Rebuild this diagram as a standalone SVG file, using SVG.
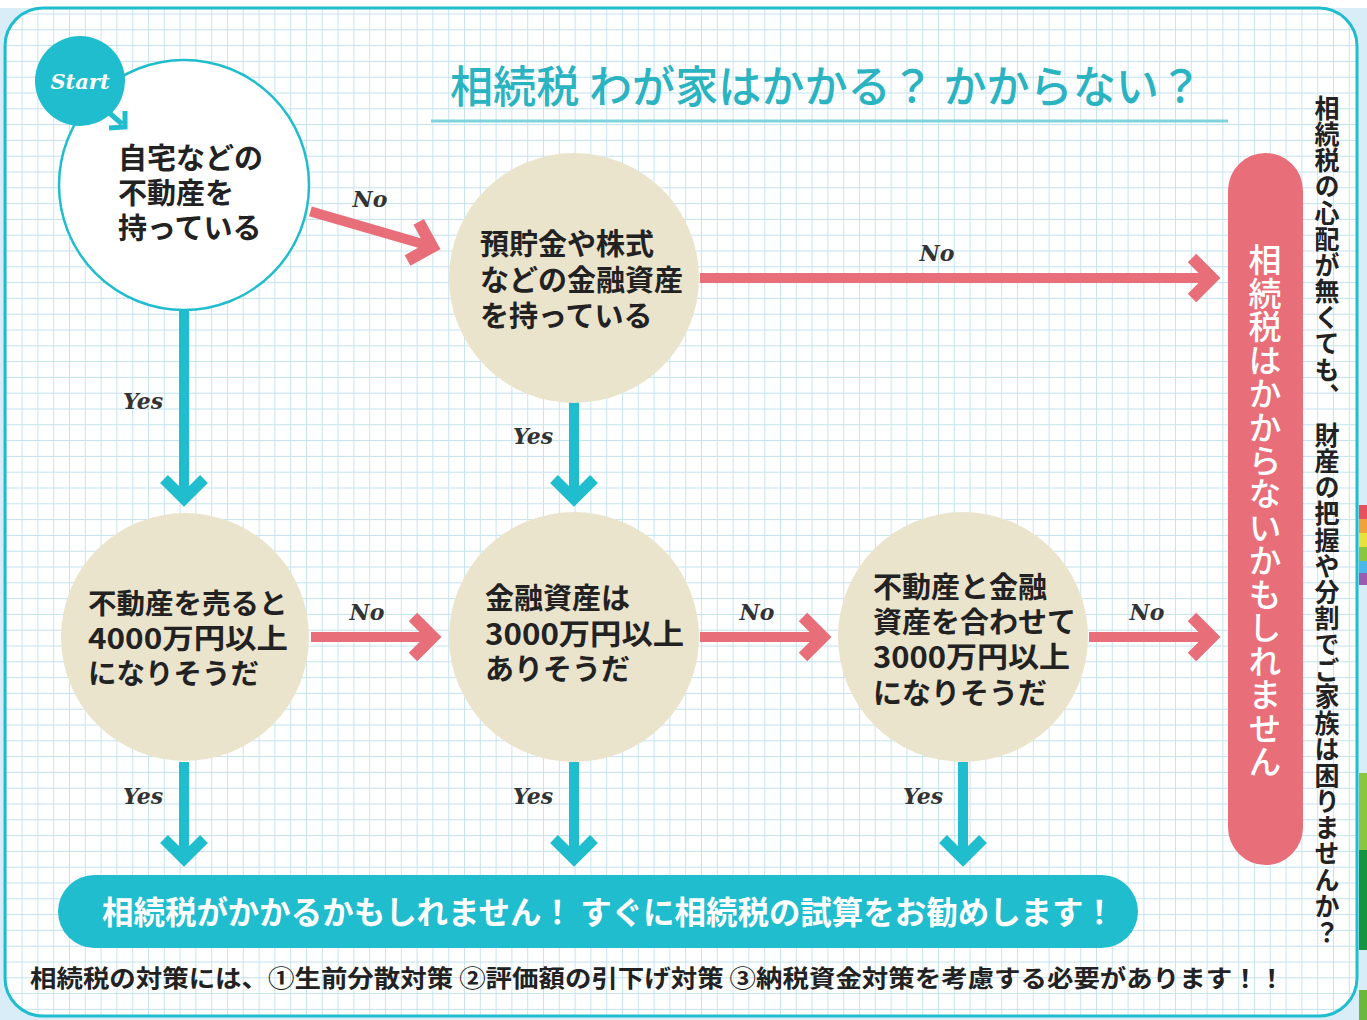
<svg xmlns="http://www.w3.org/2000/svg" width="1367" height="1020" viewBox="0 0 1367 1020">
<style>
.node-text{font-family:"Noto Sans CJK JP","Noto Sans",sans-serif;font-weight:700;fill:#222;}
.lbl{font-family:"DejaVu Serif","Liberation Serif",serif;font-style:italic;font-weight:bold;fill:#333;font-size:22px;text-anchor:middle;stroke:#fff;stroke-width:0.6px;paint-order:stroke;}
.pink{stroke:#e86f7a;stroke-width:10;fill:none;stroke-linejoin:miter;}
.pinkhead{stroke:#e86f7a;stroke-width:12;fill:none;stroke-linejoin:miter;}
.blue{stroke:#1fbdcd;stroke-width:10;fill:none;stroke-linejoin:miter;}
.bluehead{stroke:#1fbdcd;stroke-width:11;fill:none;stroke-linejoin:miter;}
.beige{fill:#ebe4cd;}
</style>
<defs>
<pattern id="grid" patternUnits="userSpaceOnUse" x="5.8" y="13.5" width="15.8" height="15.8">
<rect width="15.8" height="15.8" fill="#ffffff"/>
<path d="M0 0 V15.8 M0 0 H15.8" stroke="#c2e2ee" stroke-width="1.8" fill="none"/>
</pattern>
</defs>
<rect width="1367" height="1020" fill="#d8edf8"/>
<rect x="0" y="0" width="1367" height="8" fill="#ffffff"/>
<g id="edge-stripes">
<rect x="1359" y="505" width="8" height="14" fill="#e8505b"/>
<rect x="1359" y="519" width="8" height="14" fill="#f3a23a"/>
<rect x="1359" y="533" width="8" height="14" fill="#e9e23a"/>
<rect x="1359" y="547" width="8" height="14" fill="#8cc63f"/>
<rect x="1359" y="561" width="8" height="12" fill="#49b8e8"/>
<rect x="1359" y="573" width="8" height="12" fill="#9a5bb0"/>
<rect x="1359" y="773" width="8" height="77" fill="#8cc63f"/>
<rect x="1359" y="850" width="8" height="100" fill="#14953e"/>
<rect x="1359" y="990" width="8" height="30" fill="#6cb83a"/>
</g>
<rect id="panel" x="5" y="8" width="1352" height="1008" rx="38" fill="url(#grid)" stroke="#1fbdcd" stroke-width="3"/>

<g id="title">
<text x="450" y="103" font-family="'Noto Sans CJK JP',sans-serif" font-weight="500" font-size="44" fill="#2ab3c1" textLength="752" lengthAdjust="spacingAndGlyphs">相続税 わが家はかかる？ かからない？</text>
<line x1="431" y1="121" x2="1228" y2="121" stroke="#7fd3dc" stroke-width="3"/>
</g>

<g id="connectors">
<g transform="translate(440,249) rotate(16.2)">
<path class="pink" d="M-135 0 H-8"/>
<path class="pinkhead" d="M-28 -20 L-8 0 L-28 20"/>
</g>
<text class="lbl" x="370" y="207">No</text>
<path class="pink" d="M700 278 H1212"/>
<path class="pinkhead" d="M1192 258 L1212 278 L1192 298"/>
<text class="lbl" x="937" y="261">No</text>
<path class="pink" d="M311 637 H433"/>
<path class="pinkhead" d="M413 617 L433 637 L413 657"/>
<text class="lbl" x="367" y="620">No</text>
<path class="pink" d="M700 637 H823"/>
<path class="pinkhead" d="M803 617 L823 637 L803 657"/>
<text class="lbl" x="757" y="620">No</text>
<path class="pink" d="M1089 637 H1212"/>
<path class="pinkhead" d="M1192 617 L1212 637 L1192 657"/>
<text class="lbl" x="1147" y="620">No</text>
<path class="blue" d="M184 308 V498"/>
<path class="bluehead" d="M164 479 L184 499 L204 479"/>
<text class="lbl" x="143" y="409">Yes</text>
<path class="blue" d="M574 402 V498"/>
<path class="bluehead" d="M554 479 L574 499 L594 479"/>
<text class="lbl" x="533" y="444">Yes</text>
<path class="blue" d="M184 762 V858"/>
<path class="bluehead" d="M164 839 L184 859 L204 839"/>
<text class="lbl" x="143" y="804">Yes</text>
<path class="blue" d="M574 762 V858"/>
<path class="bluehead" d="M554 839 L574 859 L594 839"/>
<text class="lbl" x="533" y="804">Yes</text>
<path class="blue" d="M963 762 V858"/>
<path class="bluehead" d="M943 839 L963 859 L983 839"/>
<text class="lbl" x="923" y="804">Yes</text>
</g>

<g id="node-q1">
<circle cx="184" cy="185" r="125" fill="#ffffff" stroke="#1fbdcd" stroke-width="2.5"/>
<text class="node-text" font-size="29" x="118" y="169">自宅などの</text>
<text class="node-text" font-size="29" x="118" y="204">不動産を</text>
<text class="node-text" font-size="29" x="118" y="239">持っている</text>
</g>
<g id="start">
<circle cx="80" cy="81" r="45" fill="#1fbdcd"/>
<text x="80" y="89" font-family="'DejaVu Serif',serif" font-style="italic" font-weight="bold" font-size="21" fill="#ffffff" text-anchor="middle">Start</text>
<path d="M106 110 L122 124 M109 128 L125 127 L125 111" stroke="#1fbdcd" stroke-width="5" fill="none"/>
</g>
<g id="node-q2">
<circle class="beige" cx="574" cy="278" r="125"/>
<text class="node-text" font-size="29" x="480" y="255">預貯金や株式</text>
<text class="node-text" font-size="29" x="480" y="291">などの金融資産</text>
<text class="node-text" font-size="29" x="480" y="327">を持っている</text>
</g>
<g id="node-q3">
<circle class="beige" cx="185" cy="637" r="124"/>
<text class="node-text" font-size="28.5" x="88" y="614">不動産を売ると</text>
<text class="node-text" font-size="28.5" x="88" y="649" textLength="200" lengthAdjust="spacingAndGlyphs">4000万円以上</text>
<text class="node-text" font-size="28.5" x="88" y="684">になりそうだ</text>
</g>
<g id="node-q4">
<circle class="beige" cx="574" cy="637" r="125"/>
<text class="node-text" font-size="29" x="485" y="609">金融資産は</text>
<text class="node-text" font-size="29" x="485" y="645" textLength="199" lengthAdjust="spacingAndGlyphs">3000万円以上</text>
<text class="node-text" font-size="29" x="485" y="680">ありそうだ</text>
</g>
<g id="node-q5">
<circle class="beige" cx="963" cy="637" r="125"/>
<text class="node-text" font-size="29" x="873" y="598">不動産と金融</text>
<text class="node-text" font-size="29" x="873" y="633">資産を合わせて</text>
<text class="node-text" font-size="29" x="873" y="668" textLength="197" lengthAdjust="spacingAndGlyphs">3000万円以上</text>
<text class="node-text" font-size="29" x="873" y="704">になりそうだ</text>
</g>

<g id="result-no">
<rect x="1228" y="153" width="75" height="712" rx="37.5" fill="#e86f7a"/>
<text x="1265" y="243" font-family="'Noto Sans CJK JP',sans-serif" font-weight="500" font-size="33" fill="#ffffff" style="writing-mode:vertical-rl;text-orientation:upright" textLength="535" lengthAdjust="spacingAndGlyphs">相続税はかからないかもしれません</text>
</g>
<g id="result-yes">
<rect x="58" y="875" width="1080" height="73" rx="36.5" fill="#1fbdcd"/>
<text x="102" y="924" font-family="'Noto Sans CJK JP',sans-serif" font-weight="700" font-size="32" fill="#ffffff" textLength="1013" lengthAdjust="spacingAndGlyphs">相続税がかかるかもしれません！ すぐに相続税の試算をお勧めします！</text>
</g>
<g id="side-note">
<text x="1327" y="95" font-family="'Noto Sans CJK JP',sans-serif" font-weight="700" font-size="25" fill="#222" style="writing-mode:vertical-rl;text-orientation:upright" textLength="850" lengthAdjust="spacingAndGlyphs">相続税の心配が無くても、　財産の把握や分割でご家族は困りませんか？</text>
</g>
<g id="footer-note">
<text x="30" y="987" font-family="'Noto Sans CJK JP',sans-serif" font-weight="700" font-size="24" fill="#222" textLength="1255" lengthAdjust="spacingAndGlyphs">相続税の対策には、①生前分散対策 ②評価額の引下げ対策 ③納税資金対策を考慮する必要があります！！</text>
</g>
</svg>
